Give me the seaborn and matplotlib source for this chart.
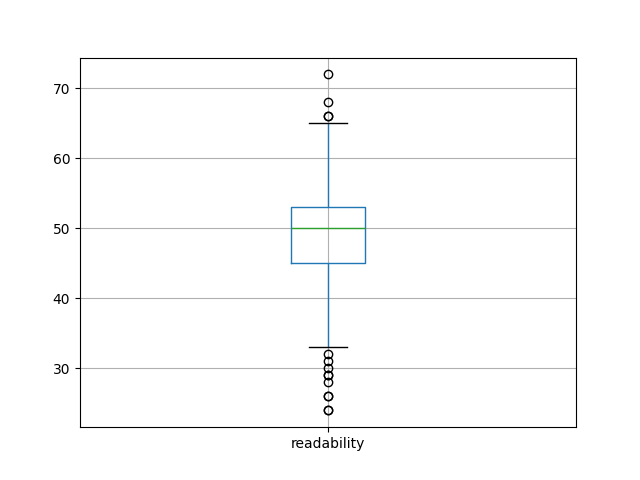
import matplotlib
matplotlib.use("Agg")
import matplotlib.pyplot as plt
import seaborn as sns
import pandas as pd
import numpy as np

values = [24, 26, 28, 29, 30, 31, 32,
          33, 34, 35, 36, 37, 38, 39, 40, 41, 42, 43, 44,
          45, 46, 47, 48, 49, 50, 51, 52, 53,
          54, 55, 56, 57, 58, 59, 60, 61, 62, 63, 64, 65,
          66, 68, 72]
counts = [2, 2, 1, 2, 1, 1, 1,
          1, 1, 1, 2, 2, 3, 3, 4, 5, 6, 7, 8,
          20, 10, 10, 10, 10, 25, 12, 12, 25,
          8, 7, 6, 5, 4, 3, 3, 2, 2, 1, 1, 1,
          2, 1, 1]

readability = np.repeat(values, counts)
df = pd.DataFrame({"readability": readability})

fig, ax = plt.subplots(figsize=(6.4, 4.8), dpi=100)
sns.boxplot(data=df, ax=ax, width=0.15, fill=False, linecolor="C0", linewidth=1.0,
            whis=1.5,
            boxprops=dict(color="C0"),
            whiskerprops=dict(color="C0"),
            capprops=dict(color="black"),
            medianprops=dict(color="C2"),
            flierprops=dict(marker="o", markerfacecolor="none", markeredgecolor="black",
                            markersize=6))
ax.set_xlim(-0.5, 0.5)
ax.grid(True)
ax.set_axisbelow(True)
ax.set_xlabel("")
ax.set_ylabel("")
fig.savefig("out.png", dpi=100)
